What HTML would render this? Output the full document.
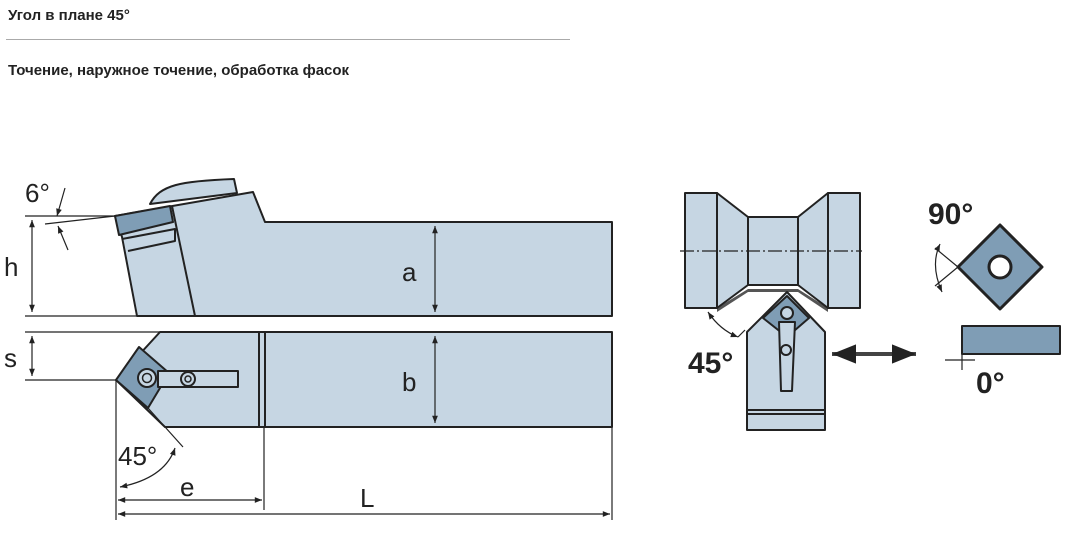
<!DOCTYPE html>
<html><head><meta charset="utf-8"><style>
body{margin:0;background:#fff;width:1073px;height:548px;overflow:hidden;font-family:"Liberation Sans",sans-serif}
.t{position:absolute;left:8px;font-size:15px;font-weight:bold;color:#222}
</style></head><body>
<div class="t" style="top:7px">Угол в плане 45°</div>
<div style="position:absolute;left:6px;top:39px;width:564px;height:1px;background:#aaa"></div>
<div class="t" style="top:62px">Точение, наружное точение, обработка фасок</div>
<svg width="1073" height="548" style="position:absolute;left:0;top:0" font-family="Liberation Sans, sans-serif">
<defs><marker id="a" viewBox="0 0 10 10" refX="10" refY="5" markerWidth="8" markerHeight="6" orient="auto-start-reverse"><path d="M0,1 L10,5 L0,9 Z" fill="#222"/></marker></defs>
<g stroke="#222" stroke-width="2" fill="#c6d6e3" stroke-linejoin="round">
<path d="M150,204 C160,185 180,181 234,179 L237,193 Z"/>
<path d="M115,216 L253,192 L265,222 L612,222 L612,316 L137,316 L122,237 Z"/>
<path d="M172,206 L195,316" fill="none"/>
<path d="M115,216 L170,206 L173,222 L119,235 Z" fill="#7f9db5"/>
<path d="M122,239 L175,229 L175,241 L128,251" fill="none"/>
<path d="M160,332 L612,332 L612,427 L165,427 L116,380 Z"/>
<path d="M259,332 L259,427 M265,332 L265,427" fill="none"/>
<path d="M116,380 L139,347 L169,373 L148,408 Z" fill="#7f9db5"/>
<rect x="158" y="371" width="80" height="16" fill="#c6d6e3"/>
<circle cx="147" cy="378" r="9" fill="#c6d6e3"/><circle cx="147" cy="378" r="4.5" fill="none" stroke-width="1.5"/>
<circle cx="188" cy="379" r="7" fill="#c6d6e3"/><circle cx="188" cy="379" r="3" fill="none" stroke-width="1.5"/>
</g>
<g stroke="#222" stroke-width="1.2" fill="none">
<path d="M25,216 L115,216 M25,316 L137,316 M25,332 L160,332 M25,380 L116,380"/>
<path d="M45,224 L115,216"/>
<path d="M32,220 L32,312" marker-start="url(#a)" marker-end="url(#a)"/>
<path d="M32,336 L32,376" marker-start="url(#a)" marker-end="url(#a)"/>
<path d="M65,188 L57,216" marker-end="url(#a)"/>
<path d="M68,250 L58,226" marker-end="url(#a)"/>
<path d="M435,226 L435,312" marker-start="url(#a)" marker-end="url(#a)"/>
<path d="M435,336 L435,423" marker-start="url(#a)" marker-end="url(#a)"/>
<path d="M116,380 L116,520 M148,408 L183,447 M264,427 L264,510 M612,427 L612,520"/>
<path d="M120,487 Q165,478 175,448" marker-start="url(#a)" marker-end="url(#a)"/>
<path d="M118,500 L262,500" marker-start="url(#a)" marker-end="url(#a)"/>
<path d="M118,514 L610,514" marker-start="url(#a)" marker-end="url(#a)"/>
</g>
<g font-size="26" fill="#222">
<text x="25" y="202">6°</text><text x="4" y="276">h</text><text x="4" y="367">s</text>
<text x="402" y="281">a</text><text x="402" y="391">b</text>
<text x="118" y="465">45°</text><text x="180" y="496">e</text><text x="360" y="507">L</text>
</g>
<path d="M717,308 L748,289 L798,289 L828,308 L828,312 L798,292 L748,292 L717,312 Z" fill="#555"/>
<g stroke="#222" stroke-width="2" fill="#c6d6e3" stroke-linejoin="round">
<rect x="685" y="193" width="32" height="115"/>
<rect x="828" y="193" width="32" height="115"/>
<path d="M717,193 L748,217 L748,285 L717,308 Z"/>
<path d="M828,193 L798,217 L798,285 L828,308 Z"/>
<rect x="748" y="217" width="50" height="68"/>
<path d="M747,332 L787,292 L825,332 L825,430 L747,430 Z"/>
<path d="M747,410 L825,410 M747,414 L825,414" fill="none"/>
<path d="M787,296 L809,318 L787,337 L763,318 Z" fill="#7f9db5"/>
<path d="M779,322 L795,322 L792,391 L781,391 Z"/>
<circle cx="787" cy="313" r="6"/><circle cx="786" cy="350" r="5"/>
<path d="M1000,225 L1042,267 L1000,309 L958,267 Z" fill="#7f9db5" stroke-width="3"/>
<circle cx="1000" cy="267" r="11" fill="#fff" stroke-width="3"/>
<rect x="962" y="326" width="98" height="28" fill="#7f9db5"/>
</g>
<g stroke="#222" stroke-width="1.2" fill="none">
<path d="M680,251 L862,251" stroke-dasharray="14,3,2,3"/>
<path d="M708,312 Q720,330 738,337" marker-start="url(#a)" marker-end="url(#a)"/>
<path d="M738,337 L745,330"/>
<path d="M940,244 Q930,265 942,292" marker-start="url(#a)" marker-end="url(#a)"/>
<path d="M935,248 L958,267 L935,286"/>
<path d="M945,360 L975,360 M962,354 L962,370"/>
</g>
<path d="M832,354 L916,354" stroke="#444" stroke-width="4" marker-start="url(#a)" marker-end="url(#a)"/>
<g font-size="30" font-weight="bold" fill="#222">
<text x="688" y="373">45°</text><text x="928" y="224">90°</text><text x="976" y="393">0°</text>
</g>
</svg>
</body></html>
